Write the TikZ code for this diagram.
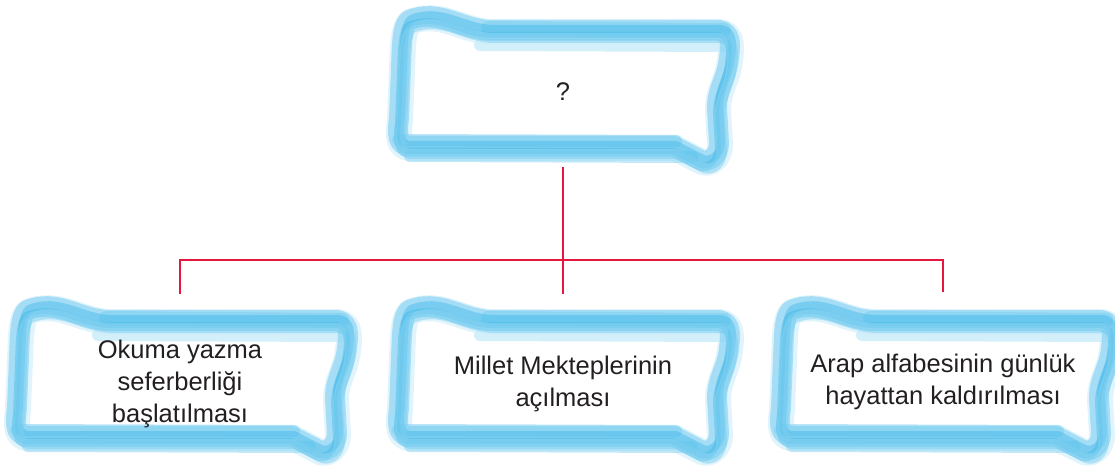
\documentclass[tikz,border=0pt]{standalone}
\usepackage{fontspec}
\setmainfont{Liberation Sans}
\definecolor{bDark}{HTML}{3FB8E8}
\definecolor{bMid}{HTML}{7CCFF1}
\definecolor{bLight}{HTML}{CDEDFA}
\definecolor{connred}{HTML}{E5173F}
\definecolor{txt}{HTML}{231F20}
\tikzset{
  bp/.style={insert path={(-150,-68) .. controls (-120,-80) and (-100,-60) .. (-70,-58) -- (160,-58)
     .. controls (172,-56) and (172,-45) .. (170,-30)
     .. controls (168,-10) and (158,0) .. (158,20) -- (160,55)
     .. controls (160,68) and (150,75) .. (142,72) -- (115,58) -- (-152,58)
     .. controls (-162,56) and (-162,45) .. (-160,30) -- (-158,-20)
     .. controls (-157,-45) and (-157,-62) .. (-150,-68) -- cycle}},
  stroke/.style={line join=round, line cap=round},
  pics/brushbox/.style={code={
    \draw[stroke, bLight, line width=12, opacity=.9] (-80,-45) -- (166,-44);
    \draw[stroke, bLight, line width=26, opacity=.6, bp];
    \draw[stroke, bMid, line width=14, opacity=.55] (-72,-62) -- (164,-60);
    \draw[stroke, bMid, line width=12, opacity=.5] (-162,50) -- (116,51);
    \draw[stroke, bMid, line width=12, opacity=.45] (-150,66) -- (132,67);
    \draw[stroke, bMid, line width=20, opacity=.6, shift={(-1,-2)}, bp];
    \draw[stroke, bDark, line width=8, opacity=.45, shift={(1,-3)}, bp];
    \draw[stroke, bDark, line width=6, opacity=.4, shift={(-2,3)}, bp];
    \draw[stroke, bMid, line width=10, opacity=.5, shift={(2,6)}, bp];
    \draw[stroke, bMid, line width=1.5, opacity=.6, shift={(-3,8)}, bp];
  }},
  lbl/.style={font=\fontsize{25.5}{32}\selectfont, align=center, text=txt, inner sep=0pt},
  connline/.style={draw=connred, line width=2.5}
}
\begin{document}
\begin{tikzpicture}[x=1pt, y=-1pt]
\useasboundingbox (0,0) rectangle (1115,473);
\pic at (560,90) {brushbox};
\pic at (178,380) {brushbox};
\pic at (560,380) {brushbox};
\pic at (942,380) {brushbox};
\node[lbl, minimum height=150] (top) at (563,92) {?};
\node[lbl, minimum height=180] (b1) at (180,384) {Okuma yazma\\seferberliği\\başlatılması};
\node[lbl, minimum height=180] (b2) at (563,384) {Millet Mekteplerinin\\açılması};
\node[lbl, minimum height=180] (b3) at (943,382) {Arap alfabesinin günlük\\hayattan kaldırılması};
\draw[connline] (top.south) -- ++(0,93) coordinate (hub);
\draw[connline] (hub) -| (b1.north);
\draw[connline] (hub) -| (b3.north);
\draw[connline] (hub) -- (b2.north);
\end{tikzpicture}
\end{document}
